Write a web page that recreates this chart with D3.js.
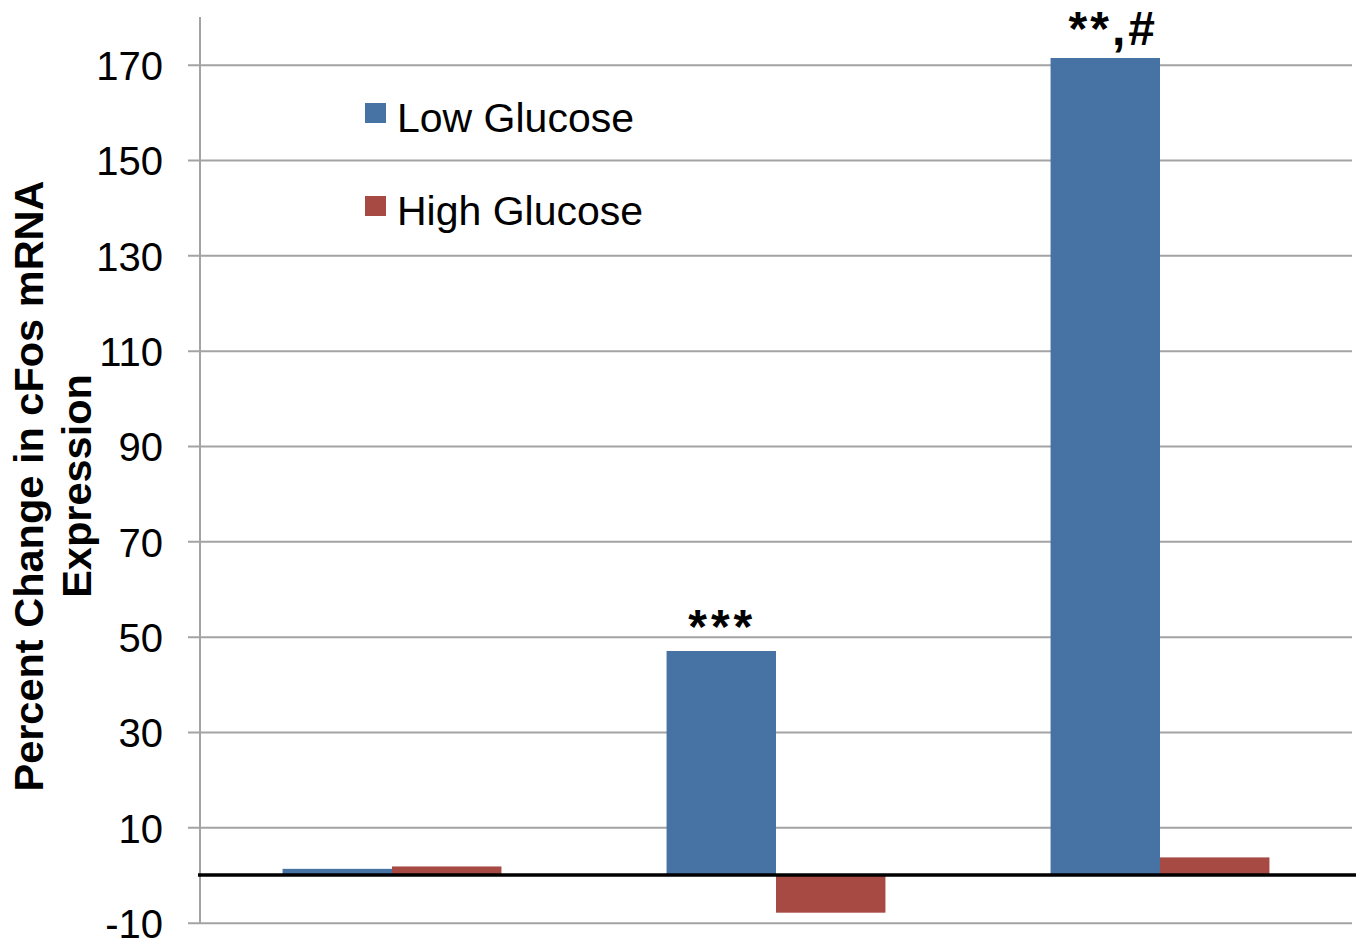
<!DOCTYPE html>
<html>
<head>
<meta charset="utf-8">
<script src="https://cdn.jsdelivr.net/npm/d3@7/dist/d3.min.js"></script>
<style>
  html, body { margin: 0; padding: 0; background: #fff; }
  svg { display: block; }
  text { font-family: "Liberation Sans", Arial, sans-serif; fill: #000; }
</style>
</head>
<body>
<svg id="chart" width="1361" height="944"></svg>
<script>
// ---- data ----
const categories = ["Group 1", "Group 2", "Group 3"];
const seriesNames = ["Low Glucose", "High Glucose"];
const lowGlucose = [1.3, 47.0, 171.4];
const highGlucose = [1.8, -7.9, 3.7];
const annotations = ["", "***", "**,#"];
const tickValues = [-10, 10, 30, 50, 70, 90, 110, 130, 150, 170];
const yTitleLines = ["Percent Change in cFos mRNA", "Expression"];
const colors = ["#4672A4", "#A84A44"];

// ---- layout ----
const svg = d3.select("#chart");
const plot = { left: 200, right: 1352, top: 17, bottom: 922.7 };

const y = d3.scaleLinear().domain([-10, 180]).range([plot.bottom, plot.top]);
const x0 = d3.scaleBand().domain(categories)
  .range([plot.left, plot.right]).paddingInner(0.43).paddingOuter(0.215);
const x1 = d3.scaleBand().domain(seriesNames).range([0, x0.bandwidth()]);

const rows = categories.map((c, i) => ({
  cat: c,
  values: [
    { s: seriesNames[0], v: lowGlucose[i] },
    { s: seriesNames[1], v: highGlucose[i] }
  ],
  note: annotations[i],
  low: lowGlucose[i]
}));

// gridlines + ticks
const yAxis = d3.axisLeft(y).tickValues(tickValues).tickFormat(d => String(d))
  .tickSize(-(plot.right - plot.left)).tickPadding(37).tickSizeOuter(0);
const gAxis = svg.append("g").attr("transform", `translate(${plot.left},0)`).call(yAxis);
gAxis.select(".domain").remove();
gAxis.selectAll(".tick line")
  .attr("x1", -12).attr("x2", plot.right - plot.left)
  .attr("stroke", "#a3a3a3").attr("stroke-width", 2);
gAxis.selectAll(".tick text")
  .attr("font-size", 40).attr("dy", "0.37em")
  .style("font-family", "'Liberation Sans', Arial, sans-serif").attr("fill", "#000");

// vertical axis line
svg.append("line")
  .attr("x1", plot.left).attr("x2", plot.left)
  .attr("y1", plot.top).attr("y2", y(-10))
  .attr("stroke", "#a3a3a3").attr("stroke-width", 2);

// bars
const groups = svg.append("g").selectAll("g").data(rows).join("g")
  .attr("transform", d => `translate(${x0(d.cat)},0)`);
groups.selectAll("rect").data(d => d.values).join("rect")
  .attr("x", d => x1(d.s))
  .attr("width", x1.bandwidth())
  .attr("y", d => y(Math.max(0, d.v)))
  .attr("height", d => Math.abs(y(d.v) - y(0)))
  .attr("fill", (d, i) => colors[i]);

// zero line
svg.append("line")
  .attr("x1", plot.left - 2).attr("x2", 1356)
  .attr("y1", y(0)).attr("y2", y(0))
  .attr("stroke", "#000").attr("stroke-width", 3.5);

// annotations
svg.append("g").selectAll("text").data(rows.filter(d => d.note)).join("text")
  .attr("x", d => x0(d.cat) + x1(seriesNames[0]) + x1.bandwidth() / 2 + (d.note.length > 3 ? 8 : 1))
  .attr("y", d => y(d.low) - (d.note.length > 3 ? 13 : 8))
  .attr("text-anchor", "middle")
  .attr("font-size", 48).attr("font-weight", "bold")
  .attr("letter-spacing", d => d.note.length > 3 ? 3 : 4)
  .text(d => d.note);

// legend
const legend = svg.append("g");
seriesNames.forEach((name, i) => {
  const g = legend.append("g").attr("transform", `translate(365,${103 + i * 93})`);
  g.append("rect").attr("width", 21).attr("height", 20).attr("fill", colors[i]);
  g.append("text").attr("x", 32).attr("y", 29).attr("font-size", 41).text(name);
});

// y title
const title = svg.append("text")
  .attr("transform", `translate(43,486) rotate(-90)`)
  .attr("text-anchor", "middle")
  .attr("font-size", 41.5).attr("font-weight", "bold");
yTitleLines.forEach((t, i) => {
  title.append("tspan").attr("x", 0).attr("y", i * 48).text(t);
});
</script>
</body>
</html>
